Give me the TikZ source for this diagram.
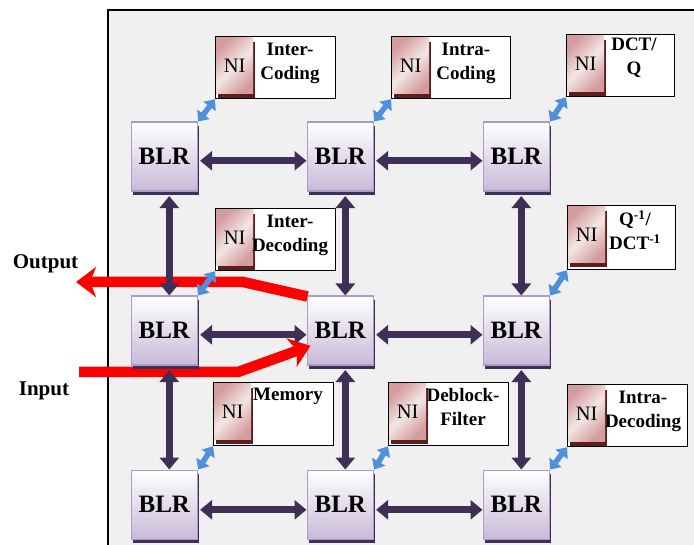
\documentclass[tikz,border=0pt]{standalone}
\usepackage{fontspec}
\setmainfont{Liberation Serif}
\usetikzlibrary{arrows.meta,shadows,calc}
\pgfdeclarelayer{redlayer}
\pgfdeclarelayer{toplayer}
\pgfsetlayers{main,redlayer,toplayer}
\definecolor{linkc}{HTML}{3F2F57}
\definecolor{bluec}{HTML}{4F8FDC}
\definecolor{darkred}{HTML}{5E1E1E}
\definecolor{blrb}{HTML}{AB9CC4}
\definecolor{blrf}{HTML}{C8BAD8}
\definecolor{nib}{HTML}{D49C9C}
\definecolor{nil}{HTML}{F3E6E6}
\tikzset{
  x=1pt,y=-1pt,
  blr/.style={draw=blrb,line width=1.6pt,top color=white,bottom color=blrf,minimum width=66pt,minimum height=69pt,inner sep=0pt,
    font=\fontsize{25}{25}\selectfont\bfseries,anchor=north west,
    drop shadow={shadow xshift=2pt,shadow yshift=-4pt,fill=linkc,opacity=1}},
  modbox/.style={draw=black,line width=1.3pt,fill=white,anchor=north west,inner sep=0pt},
  nibox/.style={anchor=north west,inner sep=0pt,minimum width=37pt,minimum height=56pt,
    font=\fontsize{20.5}{20.5}\selectfont,
    left color=nib,right color=nib,middle color=nil,shading angle=45,
    drop shadow={shadow xshift=1.5pt,shadow yshift=-4pt,fill=darkred,opacity=1}},
  modtext/.style={font=\fontsize{19}{24}\selectfont\bfseries,align=center,inner sep=0pt},
  sidetext/.style={font=\fontsize{21}{24}\selectfont\bfseries,inner sep=0pt},
  link/.style={draw=linkc,line width=7pt,{Triangle[width=19pt,length=12pt]}-{Triangle[width=19pt,length=12pt]},shorten >=0pt,shorten <=0pt},
  bluelink/.style={draw=bluec,line width=5.5pt,{Triangle[width=15pt,length=9pt]}-{Triangle[width=15pt,length=9pt]}},
  redline/.style={draw=red,line width=10.5pt,line join=miter},
  redarrow/.style={redline,-{Stealth[width=30pt,length=20pt,inset=6pt]}},
}
\newcommand{\modunit}[8]{% name x y w h textx texty text
  \node[modbox,minimum width=#4pt,minimum height=#5pt] (#1) at (#2,#3) {};
  \node[nibox] (#1ni) at (#2+1,#3+1.5) {NI};
  \node[modtext] (#1t) at (#6,#7) {#8};
}
\begin{document}
\begin{tikzpicture}
\useasboundingbox (0,0) rectangle (694,545);
\fill[white] (0,0) rectangle (694,545);
\fill[black!6] (108,10) rectangle (694,545);
\draw[black,line width=1.2pt] (108,545) -- (108,10) -- (694,10);

% BLR routers
\node[blr] (r11) at (130.5,121.5) {BLR};
\node[blr] (r12) at (306.5,121.5) {BLR};
\node[blr] (r13) at (482.5,121.5) {BLR};
\node[blr] (r22) at (306.5,295.5) {BLR};
\node[blr] (r23) at (482.5,295.5) {BLR};
\node[blr] (r31) at (130.5,469.5) {BLR};
\node[blr] (r32) at (306.5,469.5) {BLR};
\node[blr] (r33) at (482.5,469.5) {BLR};
\begin{pgfonlayer}{toplayer}
\node[blr] (r21) at (130.5,295.5) {BLR};
\end{pgfonlayer}

% modules
\modunit{m1}{215}{36}{120}{62}{290}{63}{Inter-\\Coding}
\modunit{m2}{391}{36}{119}{62}{466}{63}{Intra-\\Coding}
\modunit{m3}{566}{34}{108}{62}{634}{58}{DCT/\\Q}
\modunit{m4}{567}{205}{108}{64}{635}{230}{Q\textsuperscript{-1}/\\DCT\textsuperscript{-1}}
\modunit{m5}{215}{208}{120}{62}{290}{235}{Inter-\\Decoding}
\modunit{m6}{213}{382}{120}{63}{288}{396}{Memory}
\modunit{m7}{388}{382}{120}{63}{463}{407}{Deblock-\\Filter}
\modunit{m8}{567}{384}{120}{62}{643}{411}{Intra-\\Decoding}

% horizontal links
\draw[link] ([xshift=2pt,yshift=-4pt]r11.east) -- ([yshift=-4pt]r12.west);
\draw[link] ([xshift=2pt,yshift=-4pt]r12.east) -- ([yshift=-4pt]r13.west);
\draw[link] ([xshift=2pt,yshift=-4pt]r21.east) -- ([yshift=-4pt]r22.west);
\draw[link] ([xshift=2pt,yshift=-4pt]r22.east) -- ([yshift=-4pt]r23.west);
\draw[link] ([xshift=2pt,yshift=-5pt]r31.east) -- ([yshift=-5pt]r32.west);
\draw[link] ([xshift=2pt,yshift=-5pt]r32.east) -- ([yshift=-5pt]r33.west);

% vertical links
\draw[link] ([xshift=5pt,yshift=-4pt]r12.south) -- ([xshift=5pt]r22.north);
\draw[link] ([xshift=5pt,yshift=-4pt]r13.south) -- ([xshift=5pt]r23.north);
\draw[link] ([xshift=5pt,yshift=-4pt]r22.south) -- ([xshift=5pt]r32.north);
\draw[link] ([xshift=5pt,yshift=-4pt]r23.south) -- ([xshift=5pt]r33.north);

% red data paths
\coordinate (outbend) at (243,282);
\coordinate (outend) at (76,282);
\coordinate (inbend) at (238,372);
\coordinate (instart) at (79,372);
\begin{pgfonlayer}{redlayer}
\draw[redarrow] ([xshift=1pt,yshift=-1pt]r22.north west) -- (outbend) -- (outend);
\draw[redarrow] (instart) -- (inbend) -- ([xshift=4pt,yshift=-15pt]r22.west);
\end{pgfonlayer}

\begin{pgfonlayer}{toplayer}
\draw[link] ([xshift=5pt,yshift=-4pt]r11.south) -- ([xshift=5pt]r21.north);
\draw[link] ([xshift=5pt,yshift=-4pt]r21.south) -- ([xshift=5pt]r31.north);
\draw[bluelink] (r11.north east) -- (m1.south west);
\draw[bluelink] (r12.north east) -- (m2.south west);
\draw[bluelink] (r13.north east) -- (m3.south west);
\draw[bluelink] (r21.north east) -- (m5.south west);
\draw[bluelink] (r23.north east) -- (m4.south west);
\draw[bluelink] (r31.north east) -- (m6.south west);
\draw[bluelink] (r32.north east) -- (m7.south west);
\draw[bluelink] (r33.north east) -- (m8.south west);
\end{pgfonlayer}

\node[sidetext] (outlabel) at (45.5,264) {Output};
\node[sidetext] (inlabel) at (44,391) {Input};
\end{tikzpicture}
\end{document}
